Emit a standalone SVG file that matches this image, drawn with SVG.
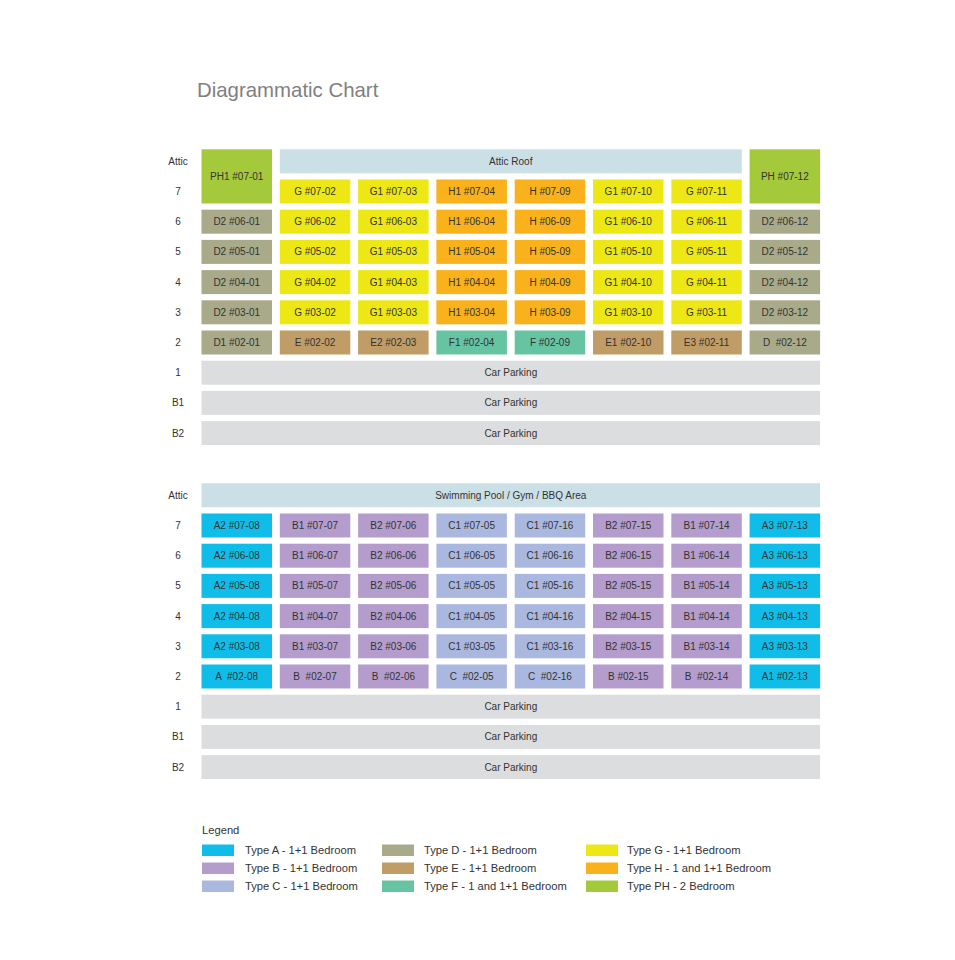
<svg xmlns="http://www.w3.org/2000/svg" width="955" height="960" viewBox="0 0 955 960">
<style>
text{font-family:"Liberation Sans",Arial,sans-serif;fill:#333;font-size:10px}
.c text,text.c{text-anchor:middle}
.fl{text-anchor:middle;fill:#333}
.title{font-size:20.4px;fill:#808080}
.lg{font-size:11.2px;fill:#333}
.A{fill:#0fbde8}.B{fill:#b49dcc}.C{fill:#aab8e0}.D{fill:#a9aa89}.E{fill:#c09c66}.F{fill:#67c4a3}.G{fill:#ede815}.H{fill:#f9b21b}.PH{fill:#a4c93b}
.roof{fill:#cbdfe7}.park{fill:#dcdddf}
</style>
<rect width="955" height="960" fill="#fff"/>
<text class="title" x="197" y="97">Diagrammatic Chart</text>

<g id="floor-labels-upper" class="fl">
<text class="fl" x="178" y="164.8">Attic</text>
<text class="fl" x="178" y="195">7</text>
<text class="fl" x="178" y="225.2">6</text>
<text class="fl" x="178" y="255.4">5</text>
<text class="fl" x="178" y="285.6">4</text>
<text class="fl" x="178" y="315.8">3</text>
<text class="fl" x="178" y="346">2</text>
<text class="fl" x="178" y="376.2">1</text>
<text class="fl" x="178" y="406.4">B1</text>
<text class="fl" x="178" y="436.6">B2</text>
</g>

<g class="c">
<g id="attic-roof"><rect class="roof" x="279.8" y="149.3" width="462" height="24"/><text x="510.8" y="164.8">Attic Roof</text></g>
<g id="ph-07-01"><rect class="PH" x="201.5" y="149.3" width="70.5" height="54.2"/><text x="236.75" y="180">PH1 #07-01</text></g>
<g id="ph-07-12"><rect class="PH" x="749.6" y="149.3" width="70.5" height="54.2"/><text x="784.85" y="180">PH #07-12</text></g>

<g id="u-07-02"><rect class="G" x="279.8" y="179.5" width="70.5" height="24"/><text x="315.05" y="195">G #07-02</text></g>
<g id="u-07-03"><rect class="G" x="358.1" y="179.5" width="70.5" height="24"/><text x="393.35" y="195">G1 #07-03</text></g>
<g id="u-07-04"><rect class="H" x="436.4" y="179.5" width="70.5" height="24"/><text x="471.65" y="195">H1 #07-04</text></g>
<g id="u-07-09"><rect class="H" x="514.7" y="179.5" width="70.5" height="24"/><text x="549.95" y="195">H #07-09</text></g>
<g id="u-07-10"><rect class="G" x="593" y="179.5" width="70.5" height="24"/><text x="628.25" y="195">G1 #07-10</text></g>
<g id="u-07-11"><rect class="G" x="671.3" y="179.5" width="70.5" height="24"/><text x="706.55" y="195">G #07-11</text></g>

<g id="u-06-01"><rect class="D" x="201.5" y="209.7" width="70.5" height="24"/><text x="236.75" y="225.2">D2 #06-01</text></g>
<g id="u-06-02"><rect class="G" x="279.8" y="209.7" width="70.5" height="24"/><text x="315.05" y="225.2">G #06-02</text></g>
<g id="u-06-03"><rect class="G" x="358.1" y="209.7" width="70.5" height="24"/><text x="393.35" y="225.2">G1 #06-03</text></g>
<g id="u-06-04"><rect class="H" x="436.4" y="209.7" width="70.5" height="24"/><text x="471.65" y="225.2">H1 #06-04</text></g>
<g id="u-06-09"><rect class="H" x="514.7" y="209.7" width="70.5" height="24"/><text x="549.95" y="225.2">H #06-09</text></g>
<g id="u-06-10"><rect class="G" x="593" y="209.7" width="70.5" height="24"/><text x="628.25" y="225.2">G1 #06-10</text></g>
<g id="u-06-11"><rect class="G" x="671.3" y="209.7" width="70.5" height="24"/><text x="706.55" y="225.2">G #06-11</text></g>
<g id="u-06-12"><rect class="D" x="749.6" y="209.7" width="70.5" height="24"/><text x="784.85" y="225.2">D2 #06-12</text></g>

<g id="u-05-01"><rect class="D" x="201.5" y="239.9" width="70.5" height="24"/><text x="236.75" y="255.4">D2 #05-01</text></g>
<g id="u-05-02"><rect class="G" x="279.8" y="239.9" width="70.5" height="24"/><text x="315.05" y="255.4">G #05-02</text></g>
<g id="u-05-03"><rect class="G" x="358.1" y="239.9" width="70.5" height="24"/><text x="393.35" y="255.4">G1 #05-03</text></g>
<g id="u-05-04"><rect class="H" x="436.4" y="239.9" width="70.5" height="24"/><text x="471.65" y="255.4">H1 #05-04</text></g>
<g id="u-05-09"><rect class="H" x="514.7" y="239.9" width="70.5" height="24"/><text x="549.95" y="255.4">H #05-09</text></g>
<g id="u-05-10"><rect class="G" x="593" y="239.9" width="70.5" height="24"/><text x="628.25" y="255.4">G1 #05-10</text></g>
<g id="u-05-11"><rect class="G" x="671.3" y="239.9" width="70.5" height="24"/><text x="706.55" y="255.4">G #05-11</text></g>
<g id="u-05-12"><rect class="D" x="749.6" y="239.9" width="70.5" height="24"/><text x="784.85" y="255.4">D2 #05-12</text></g>

<g id="u-04-01"><rect class="D" x="201.5" y="270.1" width="70.5" height="24"/><text x="236.75" y="285.6">D2 #04-01</text></g>
<g id="u-04-02"><rect class="G" x="279.8" y="270.1" width="70.5" height="24"/><text x="315.05" y="285.6">G #04-02</text></g>
<g id="u-04-03"><rect class="G" x="358.1" y="270.1" width="70.5" height="24"/><text x="393.35" y="285.6">G1 #04-03</text></g>
<g id="u-04-04"><rect class="H" x="436.4" y="270.1" width="70.5" height="24"/><text x="471.65" y="285.6">H1 #04-04</text></g>
<g id="u-04-09"><rect class="H" x="514.7" y="270.1" width="70.5" height="24"/><text x="549.95" y="285.6">H #04-09</text></g>
<g id="u-04-10"><rect class="G" x="593" y="270.1" width="70.5" height="24"/><text x="628.25" y="285.6">G1 #04-10</text></g>
<g id="u-04-11"><rect class="G" x="671.3" y="270.1" width="70.5" height="24"/><text x="706.55" y="285.6">G #04-11</text></g>
<g id="u-04-12"><rect class="D" x="749.6" y="270.1" width="70.5" height="24"/><text x="784.85" y="285.6">D2 #04-12</text></g>

<g id="u-03-01"><rect class="D" x="201.5" y="300.3" width="70.5" height="24"/><text x="236.75" y="315.8">D2 #03-01</text></g>
<g id="u-03-02"><rect class="G" x="279.8" y="300.3" width="70.5" height="24"/><text x="315.05" y="315.8">G #03-02</text></g>
<g id="u-03-03"><rect class="G" x="358.1" y="300.3" width="70.5" height="24"/><text x="393.35" y="315.8">G1 #03-03</text></g>
<g id="u-03-04"><rect class="H" x="436.4" y="300.3" width="70.5" height="24"/><text x="471.65" y="315.8">H1 #03-04</text></g>
<g id="u-03-09"><rect class="H" x="514.7" y="300.3" width="70.5" height="24"/><text x="549.95" y="315.8">H #03-09</text></g>
<g id="u-03-10"><rect class="G" x="593" y="300.3" width="70.5" height="24"/><text x="628.25" y="315.8">G1 #03-10</text></g>
<g id="u-03-11"><rect class="G" x="671.3" y="300.3" width="70.5" height="24"/><text x="706.55" y="315.8">G #03-11</text></g>
<g id="u-03-12"><rect class="D" x="749.6" y="300.3" width="70.5" height="24"/><text x="784.85" y="315.8">D2 #03-12</text></g>

<g id="u-02-01"><rect class="D" x="201.5" y="330.5" width="70.5" height="24"/><text x="236.75" y="346">D1 #02-01</text></g>
<g id="u-02-02"><rect class="E" x="279.8" y="330.5" width="70.5" height="24"/><text x="315.05" y="346">E #02-02</text></g>
<g id="u-02-03"><rect class="E" x="358.1" y="330.5" width="70.5" height="24"/><text x="393.35" y="346">E2 #02-03</text></g>
<g id="u-02-04"><rect class="F" x="436.4" y="330.5" width="70.5" height="24"/><text x="471.65" y="346">F1 #02-04</text></g>
<g id="u-02-09"><rect class="F" x="514.7" y="330.5" width="70.5" height="24"/><text x="549.95" y="346">F #02-09</text></g>
<g id="u-02-10"><rect class="E" x="593" y="330.5" width="70.5" height="24"/><text x="628.25" y="346">E1 #02-10</text></g>
<g id="u-02-11"><rect class="E" x="671.3" y="330.5" width="70.5" height="24"/><text x="706.55" y="346">E3 #02-11</text></g>
<g id="u-02-12"><rect class="D" x="749.6" y="330.5" width="70.5" height="24"/><text x="784.85" y="346" xml:space="preserve">D  #02-12</text></g>

<g id="u-park-1"><rect class="park" x="201.5" y="360.7" width="618.6" height="24"/><text x="510.8" y="376.2">Car Parking</text></g>
<g id="u-park-b1"><rect class="park" x="201.5" y="390.9" width="618.6" height="24"/><text x="510.8" y="406.4">Car Parking</text></g>
<g id="u-park-b2"><rect class="park" x="201.5" y="421.1" width="618.6" height="24"/><text x="510.8" y="436.6">Car Parking</text></g>
</g>

<g id="floor-labels-lower">
<text class="fl" x="178" y="498.8">Attic</text>
<text class="fl" x="178" y="529">7</text>
<text class="fl" x="178" y="559.2">6</text>
<text class="fl" x="178" y="589.4">5</text>
<text class="fl" x="178" y="619.6">4</text>
<text class="fl" x="178" y="649.8">3</text>
<text class="fl" x="178" y="680">2</text>
<text class="fl" x="178" y="710.2">1</text>
<text class="fl" x="178" y="740.4">B1</text>
<text class="fl" x="178" y="770.6">B2</text>
</g>

<g class="c">
<g id="pool"><rect class="roof" x="201.5" y="483.3" width="618.6" height="24"/><text x="510.8" y="498.8">Swimming Pool / Gym / BBQ Area</text></g>

<g id="l-07-08"><rect class="A" x="201.5" y="513.5" width="70.5" height="24"/><text x="236.75" y="529">A2 #07-08</text></g>
<g id="l-07-07"><rect class="B" x="279.8" y="513.5" width="70.5" height="24"/><text x="315.05" y="529">B1 #07-07</text></g>
<g id="l-07-06"><rect class="B" x="358.1" y="513.5" width="70.5" height="24"/><text x="393.35" y="529">B2 #07-06</text></g>
<g id="l-07-05"><rect class="C" x="436.4" y="513.5" width="70.5" height="24"/><text x="471.65" y="529">C1 #07-05</text></g>
<g id="l-07-16"><rect class="C" x="514.7" y="513.5" width="70.5" height="24"/><text x="549.95" y="529">C1 #07-16</text></g>
<g id="l-07-15"><rect class="B" x="593" y="513.5" width="70.5" height="24"/><text x="628.25" y="529">B2 #07-15</text></g>
<g id="l-07-14"><rect class="B" x="671.3" y="513.5" width="70.5" height="24"/><text x="706.55" y="529">B1 #07-14</text></g>
<g id="l-07-13"><rect class="A" x="749.6" y="513.5" width="70.5" height="24"/><text x="784.85" y="529">A3 #07-13</text></g>

<g id="l-06-08"><rect class="A" x="201.5" y="543.7" width="70.5" height="24"/><text x="236.75" y="559.2">A2 #06-08</text></g>
<g id="l-06-07"><rect class="B" x="279.8" y="543.7" width="70.5" height="24"/><text x="315.05" y="559.2">B1 #06-07</text></g>
<g id="l-06-06"><rect class="B" x="358.1" y="543.7" width="70.5" height="24"/><text x="393.35" y="559.2">B2 #06-06</text></g>
<g id="l-06-05"><rect class="C" x="436.4" y="543.7" width="70.5" height="24"/><text x="471.65" y="559.2">C1 #06-05</text></g>
<g id="l-06-16"><rect class="C" x="514.7" y="543.7" width="70.5" height="24"/><text x="549.95" y="559.2">C1 #06-16</text></g>
<g id="l-06-15"><rect class="B" x="593" y="543.7" width="70.5" height="24"/><text x="628.25" y="559.2">B2 #06-15</text></g>
<g id="l-06-14"><rect class="B" x="671.3" y="543.7" width="70.5" height="24"/><text x="706.55" y="559.2">B1 #06-14</text></g>
<g id="l-06-13"><rect class="A" x="749.6" y="543.7" width="70.5" height="24"/><text x="784.85" y="559.2">A3 #06-13</text></g>

<g id="l-05-08"><rect class="A" x="201.5" y="573.9" width="70.5" height="24"/><text x="236.75" y="589.4">A2 #05-08</text></g>
<g id="l-05-07"><rect class="B" x="279.8" y="573.9" width="70.5" height="24"/><text x="315.05" y="589.4">B1 #05-07</text></g>
<g id="l-05-06"><rect class="B" x="358.1" y="573.9" width="70.5" height="24"/><text x="393.35" y="589.4">B2 #05-06</text></g>
<g id="l-05-05"><rect class="C" x="436.4" y="573.9" width="70.5" height="24"/><text x="471.65" y="589.4">C1 #05-05</text></g>
<g id="l-05-16"><rect class="C" x="514.7" y="573.9" width="70.5" height="24"/><text x="549.95" y="589.4">C1 #05-16</text></g>
<g id="l-05-15"><rect class="B" x="593" y="573.9" width="70.5" height="24"/><text x="628.25" y="589.4">B2 #05-15</text></g>
<g id="l-05-14"><rect class="B" x="671.3" y="573.9" width="70.5" height="24"/><text x="706.55" y="589.4">B1 #05-14</text></g>
<g id="l-05-13"><rect class="A" x="749.6" y="573.9" width="70.5" height="24"/><text x="784.85" y="589.4">A3 #05-13</text></g>

<g id="l-04-08"><rect class="A" x="201.5" y="604.1" width="70.5" height="24"/><text x="236.75" y="619.6">A2 #04-08</text></g>
<g id="l-04-07"><rect class="B" x="279.8" y="604.1" width="70.5" height="24"/><text x="315.05" y="619.6">B1 #04-07</text></g>
<g id="l-04-06"><rect class="B" x="358.1" y="604.1" width="70.5" height="24"/><text x="393.35" y="619.6">B2 #04-06</text></g>
<g id="l-04-05"><rect class="C" x="436.4" y="604.1" width="70.5" height="24"/><text x="471.65" y="619.6">C1 #04-05</text></g>
<g id="l-04-16"><rect class="C" x="514.7" y="604.1" width="70.5" height="24"/><text x="549.95" y="619.6">C1 #04-16</text></g>
<g id="l-04-15"><rect class="B" x="593" y="604.1" width="70.5" height="24"/><text x="628.25" y="619.6">B2 #04-15</text></g>
<g id="l-04-14"><rect class="B" x="671.3" y="604.1" width="70.5" height="24"/><text x="706.55" y="619.6">B1 #04-14</text></g>
<g id="l-04-13"><rect class="A" x="749.6" y="604.1" width="70.5" height="24"/><text x="784.85" y="619.6">A3 #04-13</text></g>

<g id="l-03-08"><rect class="A" x="201.5" y="634.3" width="70.5" height="24"/><text x="236.75" y="649.8">A2 #03-08</text></g>
<g id="l-03-07"><rect class="B" x="279.8" y="634.3" width="70.5" height="24"/><text x="315.05" y="649.8">B1 #03-07</text></g>
<g id="l-03-06"><rect class="B" x="358.1" y="634.3" width="70.5" height="24"/><text x="393.35" y="649.8">B2 #03-06</text></g>
<g id="l-03-05"><rect class="C" x="436.4" y="634.3" width="70.5" height="24"/><text x="471.65" y="649.8">C1 #03-05</text></g>
<g id="l-03-16"><rect class="C" x="514.7" y="634.3" width="70.5" height="24"/><text x="549.95" y="649.8">C1 #03-16</text></g>
<g id="l-03-15"><rect class="B" x="593" y="634.3" width="70.5" height="24"/><text x="628.25" y="649.8">B2 #03-15</text></g>
<g id="l-03-14"><rect class="B" x="671.3" y="634.3" width="70.5" height="24"/><text x="706.55" y="649.8">B1 #03-14</text></g>
<g id="l-03-13"><rect class="A" x="749.6" y="634.3" width="70.5" height="24"/><text x="784.85" y="649.8">A3 #03-13</text></g>

<g id="l-02-08"><rect class="A" x="201.5" y="664.5" width="70.5" height="24"/><text x="236.75" y="680" xml:space="preserve">A  #02-08</text></g>
<g id="l-02-07"><rect class="B" x="279.8" y="664.5" width="70.5" height="24"/><text x="315.05" y="680" xml:space="preserve">B  #02-07</text></g>
<g id="l-02-06"><rect class="B" x="358.1" y="664.5" width="70.5" height="24"/><text x="393.35" y="680" xml:space="preserve">B  #02-06</text></g>
<g id="l-02-05"><rect class="C" x="436.4" y="664.5" width="70.5" height="24"/><text x="471.65" y="680" xml:space="preserve">C  #02-05</text></g>
<g id="l-02-16"><rect class="C" x="514.7" y="664.5" width="70.5" height="24"/><text x="549.95" y="680" xml:space="preserve">C  #02-16</text></g>
<g id="l-02-15"><rect class="B" x="593" y="664.5" width="70.5" height="24"/><text x="628.25" y="680">B #02-15</text></g>
<g id="l-02-14"><rect class="B" x="671.3" y="664.5" width="70.5" height="24"/><text x="706.55" y="680" xml:space="preserve">B  #02-14</text></g>
<g id="l-02-13"><rect class="A" x="749.6" y="664.5" width="70.5" height="24"/><text x="784.85" y="680">A1 #02-13</text></g>

<g id="l-park-1"><rect class="park" x="201.5" y="694.7" width="618.6" height="24"/><text x="510.8" y="710.2">Car Parking</text></g>
<g id="l-park-b1"><rect class="park" x="201.5" y="724.9" width="618.6" height="24"/><text x="510.8" y="740.4">Car Parking</text></g>
<g id="l-park-b2"><rect class="park" x="201.5" y="755.1" width="618.6" height="24"/><text x="510.8" y="770.6">Car Parking</text></g>
</g>

<g id="legend">
<text class="lg" x="202" y="834">Legend</text>
<rect class="A" x="202" y="844.5" width="32" height="11.5"/><text class="lg" x="245" y="854">Type A - 1+1 Bedroom</text>
<rect class="B" x="202" y="862.5" width="32" height="11.5"/><text class="lg" x="245" y="872">Type B - 1+1 Bedroom</text>
<rect class="C" x="202" y="880.5" width="32" height="11.5"/><text class="lg" x="245" y="890">Type C - 1+1 Bedroom</text>
<rect class="D" x="382" y="844.5" width="32" height="11.5"/><text class="lg" x="424" y="854">Type D - 1+1 Bedroom</text>
<rect class="E" x="382" y="862.5" width="32" height="11.5"/><text class="lg" x="424" y="872">Type E - 1+1 Bedroom</text>
<rect class="F" x="382" y="880.5" width="32" height="11.5"/><text class="lg" x="424" y="890">Type F - 1 and 1+1 Bedroom</text>
<rect class="G" x="586" y="844.5" width="32" height="11.5"/><text class="lg" x="627" y="854">Type G - 1+1 Bedroom</text>
<rect class="H" x="586" y="862.5" width="32" height="11.5"/><text class="lg" x="627" y="872">Type H - 1 and 1+1 Bedroom</text>
<rect class="PH" x="586" y="880.5" width="32" height="11.5"/><text class="lg" x="627" y="890">Type PH - 2 Bedroom</text>
</g>
</svg>
